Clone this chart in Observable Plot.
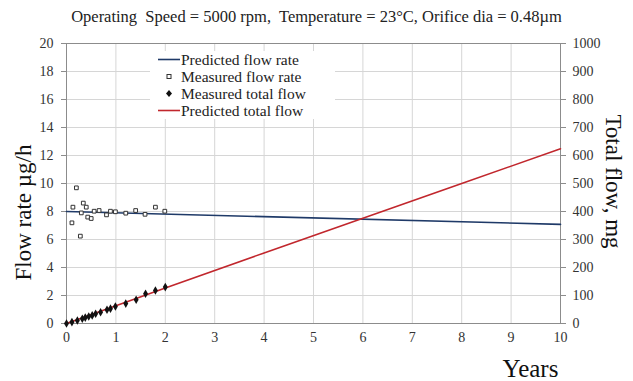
<!DOCTYPE html>
<html><head><meta charset="utf-8">
<script src="https://cdn.jsdelivr.net/npm/d3@7"></script>
<script src="https://cdn.jsdelivr.net/npm/@observablehq/plot@0.6"></script>
<style>
body{margin:0;background:#fff}
#wrap{position:relative;width:633px;height:381px;font-family:"Liberation Serif","Times New Roman",serif}
#wrap svg, #wrap svg text{font-family:"Liberation Serif","Times New Roman",serif !important}
#title{position:absolute;left:0;top:7px;width:633px;text-align:center;font-size:16.5px;color:#222;white-space:pre;line-height:20px}
#legend{position:absolute;left:150px;top:51px;width:185px;height:68px;background:#fff;font-size:15.5px;color:#222}
.row{display:flex;align-items:center;height:17px;white-space:nowrap}
.row svg{flex:none}
</style></head><body><div id="wrap"><div id="title"></div><div id="legend"></div></div>
<script>
// ---- data ----
const titleText = "Operating  Speed = 5000 rpm,  Temperature = 23°C, Orifice dia = 0.48µm";
const xTicks = [0,1,2,3,4,5,6,7,8,9,10];
const yTicks = [0,2,4,6,8,10,12,14,16,18,20];
const mgPerUnit = 50; // right axis: 0..1000 mg vs left 0..20

const predRateYears = [0, 10];
const predRate = [8.0, 7.08];

const measRateYears = [0.11,0.13,0.2,0.28,0.3,0.34,0.40,0.43,0.50,0.56,0.66,0.81,0.89,0.99,1.2,1.4,1.59,1.8,1.99];
const measRate =      [7.19,8.31,9.69,6.24,7.9,8.6,8.31,7.6,7.5,8.02,8.07,7.76,8.02,7.98,7.88,8.07,7.8,8.31,8.02];

const measTotalYears = [0,0.11,0.22,0.32,0.38,0.45,0.52,0.59,0.69,0.82,0.89,0.99,1.2,1.41,1.6,1.8,2.0];
const measTotalMg =    [0,5,11,17,21,25,29,35,40,49,53,61,71,85,106,118,130];

const predTotalYears = [0,2,4,6,8,10];
const predTotalMg =    [0,127,252,376,500,624];

const legendLabels = ["Predicted flow rate","Measured flow rate","Measured total flow","Predicted total flow"];
const navy = "#1f3a68", red = "#c1272d";
const serif = "'Liberation Serif', 'Times New Roman', serif";

// ---- tables ----
const predRateData = predRateYears.map((x,i)=>({x, y: predRate[i]}));
const measRateData = measRateYears.map((x,i)=>({x, y: measRate[i]}));
const measTotalData = measTotalYears.map((x,i)=>({x, y: measTotalMg[i]/mgPerUnit}));
const predTotalData = predTotalYears.map((x,i)=>({x, y: predTotalMg[i]/mgPerUnit}));

const plot = Plot.plot({
  width: 633, height: 381,
  marginTop: 43, marginLeft: 66, marginRight: 73, marginBottom: 58,
  style: "font-family:'Liberation Serif','Times New Roman',serif;font-size:14px;color:#333;background:white;",
  x: {domain: [0, 10]},
  y: {domain: [0, 20]},
  marks: [
    Plot.gridX(xTicks, {stroke: "#d6d6d6", strokeOpacity: 1}),
    Plot.gridY(yTicks, {stroke: "#d6d6d6", strokeOpacity: 1}),
    Plot.frame({stroke: "#8c8c8c"}),
    Plot.axisX(xTicks, {tickSize: 0, tickPadding: 9, label: null, fill: "#333", fontFamily: serif, fontSize: 14}),
    Plot.axisY(yTicks, {anchor: "left", tickSize: 5, tickPadding: 8, label: null, stroke: "#8c8c8c", fill: "#333", fontFamily: serif, fontSize: 14}),
    Plot.axisY(yTicks, {anchor: "right", tickSize: 5, tickPadding: 7, label: null, stroke: "#8c8c8c", fill: "#333", fontFamily: serif, fontSize: 14, tickFormat: d => String(d * mgPerUnit)}),
    Plot.line(predRateData, {x: "x", y: "y", stroke: navy, strokeWidth: 1.6}),
    Plot.line(predTotalData, {x: "x", y: "y", stroke: red, strokeWidth: 1.6}),
    Plot.dot(measRateData, {x: "x", y: "y", symbol: "square", r: 2.1, fill: "white", stroke: "#333", strokeWidth: 1}),
    Plot.dot(measTotalData, {x: "x", y: "y", symbol: "diamond", r: 2.6, fill: "#111", stroke: "none"}),
    Plot.text(["Flow rate µg/h"], {frameAnchor: "left", dx: -43, dy: 29, rotate: -90, fontSize: 23, fontFamily: serif, textAnchor: "middle", lineAnchor: "middle", fill: "#111"}),
    Plot.text(["Total flow, mg"], {frameAnchor: "right", dx: 53, dy: -2, rotate: 90, fontSize: 23, fontFamily: serif, textAnchor: "middle", lineAnchor: "middle", fill: "#111"}),
    Plot.text(["Years"], {frameAnchor: "bottom-right", dx: -30, dy: 45, fontSize: 25, fontFamily: serif, textAnchor: "middle", lineAnchor: "middle", fill: "#111"})
  ]
});
document.getElementById("wrap").prepend(plot);
document.getElementById("title").textContent = titleText;

// ---- legend ----
const lg = document.getElementById("legend");
const swatches = [
  `<line x1="8" x2="30" y1="8.5" y2="8.5" stroke="${navy}" stroke-width="1.6"/>`,
  `<rect x="17" y="6.5" width="4" height="4" fill="white" stroke="#333" stroke-width="1"/>`,
  `<path d="M19,5 L22,8.5 L19,12 L16,8.5 Z" fill="#111"/>`,
  `<line x1="8" x2="30" y1="8.5" y2="8.5" stroke="${red}" stroke-width="1.6"/>`
];
legendLabels.forEach((t,i) => {
  const row = document.createElement("div");
  row.className = "row";
  row.innerHTML = `<svg width="30" height="17">${swatches[i]}</svg><span style="margin-left:1px">${t}</span>`;
  lg.appendChild(row);
});
</script>
</body></html>
